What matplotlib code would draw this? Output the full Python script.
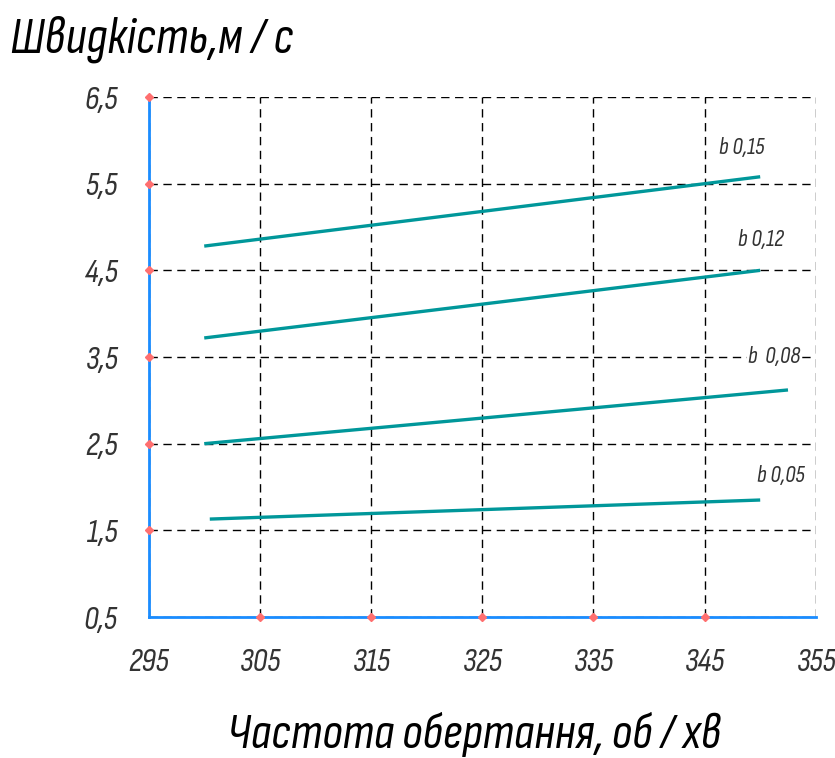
import matplotlib
matplotlib.use("Agg")
import matplotlib.pyplot as plt

# rotation speed (rev/min) and velocity (m/s) for each b value
x_b015 = [300, 350]
y_b015 = [4.78, 5.58]
x_b012 = [300, 350]
y_b012 = [3.72, 4.50]
x_b008 = [300, 352.5]
y_b008 = [2.50, 3.12]
x_b005 = [300.5, 350]
y_b005 = [1.63, 1.85]

series_labels = ["b 0,15", "b 0,12", "b  0,08", "b 0,05"]
label_x = [348.3, 350.1, 351.3, 351.9]
label_y = [5.91, 4.85, 3.50, 2.13]

xticks = [295, 305, 315, 325, 335, 345, 355]
yticks = [0.5, 1.5, 2.5, 3.5, 4.5, 5.5, 6.5]
xtick_labels = ["295", "305", "315", "325", "335", "345", "355"]
ytick_labels = ["0,5", "1,5", "2,5", "3,5", "4,5", "5,5", "6,5"]

FONT = ["Sofia Sans Condensed", "DejaVu Sans"]
teal = "#00979a"
blue = "#1a8cff"

fig = plt.figure(figsize=(8.35, 7.58), dpi=100)
ax = fig.add_axes([0.178, 0.186, 0.799, 0.686])

for xs, ys in [(x_b015, y_b015), (x_b012, y_b012), (x_b008, y_b008), (x_b005, y_b005)]:
    ax.plot(xs, ys, color=teal, lw=2.4, solid_capstyle="butt", zorder=3)

for txt, lx, ly in zip(series_labels, label_x, label_y):
    bbox = dict(facecolor="white", edgecolor="none", pad=1) if "0,08" in txt else None
    ax.text(lx, ly, txt, ha="center", va="center", fontsize=17, style="italic",
            weight="light", family=FONT, color="#333333", bbox=bbox, zorder=4)

ax.set_xlim(295, 355)
ax.set_ylim(0.5, 6.5)
ax.set_xticks(xticks)
ax.set_yticks(yticks)
ax.set_xticklabels(xtick_labels, fontsize=24, style="italic", weight="light",
                   family=FONT, color="#333333")
ax.set_yticklabels(ytick_labels, fontsize=24, style="italic", weight="light",
                   family=FONT, color="#333333")
ax.tick_params(axis="both", length=0)
ax.tick_params(axis="x", pad=22)
ax.tick_params(axis="y", pad=22)

ax.grid(True, color="black", lw=1.0, linestyle=(0, (6, 4)))
ax.set_axisbelow(True)

for side in ["top", "right"]:
    ax.spines[side].set_visible(False)
for side in ["left", "bottom"]:
    ax.spines[side].set_color(blue)
    ax.spines[side].set_linewidth(2.0)
    ax.spines[side].set_zorder(5)

# small red markers on the axes at the tick positions
ax.plot([295] * 6, yticks[1:], "D", color="#ff6f6f", ms=4, clip_on=False, zorder=6)
ax.plot(xticks[1:-1], [0.5] * 5, "D", color="#ff6f6f", ms=4, clip_on=False, zorder=6)

fig.text(0.012, 0.948, "Швидкість,м / с", fontsize=37, style="italic", weight="light",
         family=FONT, ha="left", va="center")
fig.text(0.568, 0.03, "Частота обертання, об / хв", fontsize=36, style="italic",
         weight="light", family=FONT, ha="center", va="center")

fig.savefig("out.png", dpi=100)
